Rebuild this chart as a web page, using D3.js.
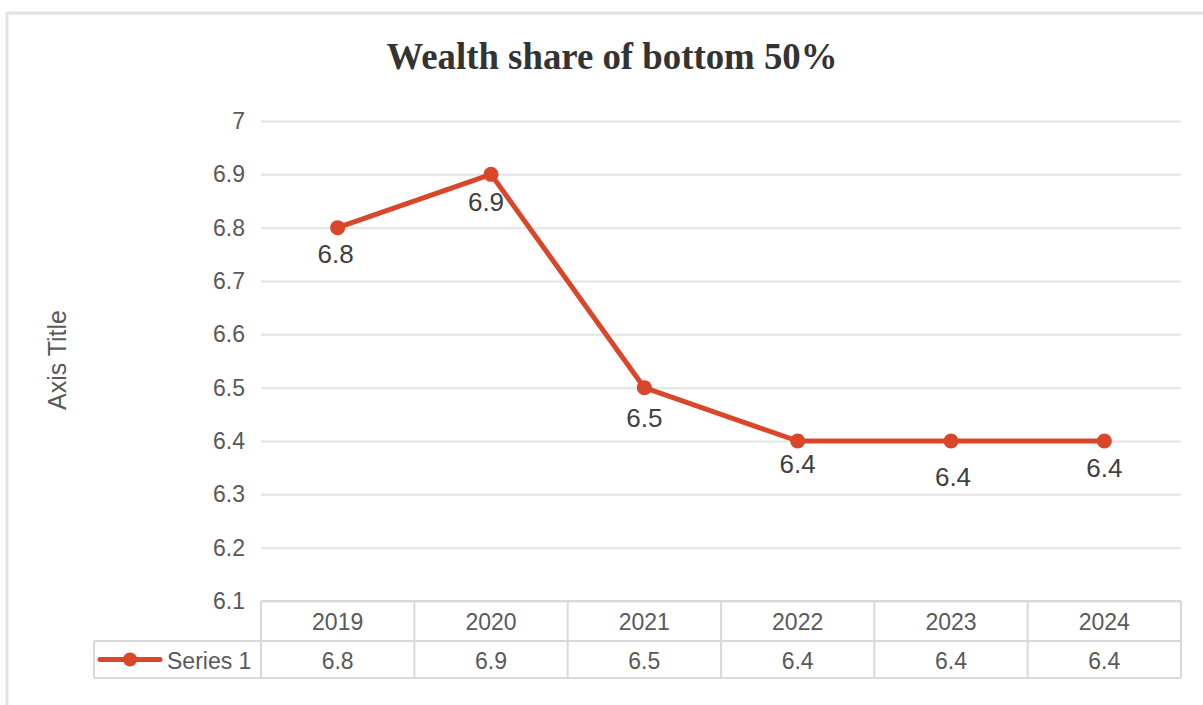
<!DOCTYPE html>
<html>
<head>
<meta charset="utf-8">
<script src="https://cdn.jsdelivr.net/npm/d3@7"></script>
<style>
  html, body { margin: 0; padding: 0; background: #fff; }
  svg { display: block; }
</style>
</head>
<body>
<svg id="chart" width="1203" height="705"></svg>
<script>
// Chart data
const years = ["2019", "2020", "2021", "2022", "2023", "2024"];
const share = [6.8, 6.9, 6.5, 6.4, 6.4, 6.4];
const yTicks = [6.1, 6.2, 6.3, 6.4, 6.5, 6.6, 6.7, 6.8, 6.9, 7];
const seriesName = "Series 1";
const chartTitle = "Wealth share of bottom 50%";
const yAxisTitle = "Axis Title";

// Layout
const W = 1203, H = 705;
const plot = { left: 261, right: 1181, top: 121, bottom: 601 };
const rowH = [40, 37];
const legendLeft = 94;
// small per-label offsets (dx, dy) for the value labels under the markers
const labelShift = [[-2, 35], [-5, 37], [0, 39], [0, 32], [2, 45], [0, 36]];

const lineColor = "#d9462a";
const gridColor = "#e3e3e3";
const tableColor = "#d9d9d9";
const textGray = "#595959";
const sans = "Liberation Sans, Arial, Helvetica, sans-serif";

const svg = d3.select("#chart");

// outer chart frame (top and left edges visible)
svg.append("path")
  .attr("d", `M7,${H} L7,13 L${W},13`)
  .attr("fill", "none")
  .attr("stroke", "#e2e2e2")
  .attr("stroke-width", 3);

const x = d3.scaleBand().domain(years).range([plot.left, plot.right]).paddingInner(0).paddingOuter(0);
const y = d3.scaleLinear().domain([6.1, 7]).range([plot.bottom, plot.top]);

// title
svg.append("text")
  .attr("x", 612).attr("y", 69)
  .attr("text-anchor", "middle")
  .attr("font-family", "Liberation Serif, 'DejaVu Serif', serif")
  .attr("font-weight", "bold")
  .attr("font-size", 37)
  .attr("fill", "#333")
  .attr("textLength", 451)
  .attr("lengthAdjust", "spacingAndGlyphs")
  .text(chartTitle);

// gridlines and y axis labels
const yAxis = d3.axisLeft(y).tickValues(yTicks).tickSize(-(plot.right - plot.left)).tickPadding(16)
  .tickFormat(d => d3.format("")(+d.toFixed(1)));
const gy = svg.append("g").attr("transform", `translate(${plot.left},0)`).call(yAxis);
gy.select(".domain").remove();
gy.selectAll(".tick line").attr("stroke", gridColor).attr("stroke-width", 2);
gy.selectAll(".tick text")
  .attr("font-family", sans).attr("font-size", 23).attr("fill", textGray);

// y axis title
svg.append("text")
  .attr("transform", `translate(66,360) rotate(-90)`)
  .attr("text-anchor", "middle")
  .attr("font-family", sans).attr("font-size", 25).attr("fill", textGray)
  .text(yAxisTitle);

// data table under the plot
const tTop = plot.bottom, tMid = tTop + rowH[0], tBot = tMid + rowH[1];
const table = svg.append("g").attr("fill", "none").attr("stroke", tableColor).attr("stroke-width", 2);
table.append("line").attr("x1", plot.left).attr("x2", plot.right).attr("y1", tTop).attr("y2", tTop);
table.append("line").attr("x1", legendLeft).attr("x2", plot.right).attr("y1", tMid).attr("y2", tMid);
table.append("line").attr("x1", legendLeft).attr("x2", plot.right).attr("y1", tBot).attr("y2", tBot);
table.append("line").attr("x1", legendLeft).attr("x2", legendLeft).attr("y1", tMid).attr("y2", tBot);
const bounds = years.map(d => x(d)).concat([x(years[years.length - 1]) + x.bandwidth()]);
table.selectAll("line.col").data(bounds).join("line").attr("class", "col")
  .attr("x1", d => d).attr("x2", d => d).attr("y1", tTop).attr("y2", tBot);

const cx = d => x(d) + x.bandwidth() / 2;

svg.append("g").selectAll("text").data(years).join("text")
  .attr("x", d => cx(d)).attr("y", tTop + 29)
  .attr("text-anchor", "middle")
  .attr("font-family", sans).attr("font-size", 23).attr("fill", textGray)
  .text(d => d);

svg.append("g").selectAll("text").data(share).join("text")
  .attr("x", (d, i) => cx(years[i])).attr("y", tMid + 28)
  .attr("text-anchor", "middle")
  .attr("font-family", sans).attr("font-size", 23).attr("fill", textGray)
  .text(d => d3.format(".1f")(d));

// legend key inside the table
const ly = (tMid + tBot) / 2;
svg.append("line").attr("x1", 100).attr("x2", 160).attr("y1", ly).attr("y2", ly)
  .attr("stroke", lineColor).attr("stroke-width", 5).attr("stroke-linecap", "round");
svg.append("circle").attr("cx", 130).attr("cy", ly).attr("r", 7).attr("fill", lineColor);
svg.append("text").attr("x", 167).attr("y", tMid + 28)
  .attr("font-family", sans).attr("font-size", 23).attr("fill", textGray)
  .text(seriesName);

// series line
const pts = share.map((v, i) => [cx(years[i]), y(v)]);
svg.append("path")
  .attr("d", d3.line()(pts))
  .attr("fill", "none")
  .attr("stroke", lineColor)
  .attr("stroke-width", 5)
  .attr("stroke-linejoin", "round");

svg.append("g").selectAll("circle").data(share).join("circle")
  .attr("cx", (d, i) => cx(years[i])).attr("cy", d => y(d))
  .attr("r", 7.5).attr("fill", lineColor);

// value labels
svg.append("g").selectAll("text").data(share).join("text")
  .attr("x", (d, i) => cx(years[i]) + labelShift[i][0])
  .attr("y", (d, i) => y(d) + labelShift[i][1])
  .attr("text-anchor", "middle")
  .attr("font-family", sans).attr("font-size", 26).attr("fill", "#404040")
  .text(d => d3.format(".1f")(d));
</script>
</body>
</html>
